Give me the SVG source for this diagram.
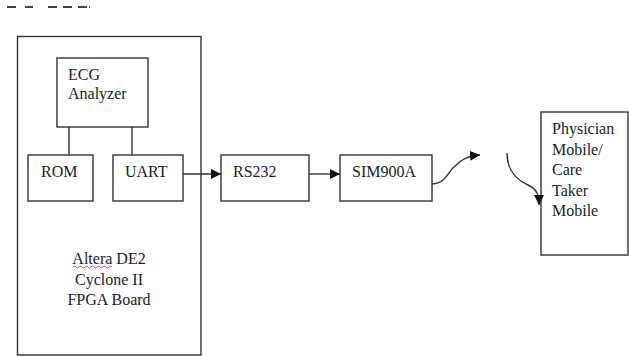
<svg xmlns="http://www.w3.org/2000/svg" width="629" height="356" viewBox="0 0 629 356">
<defs>
<marker id="ah" viewBox="0 0 10 10" refX="10" refY="5" markerWidth="10" markerHeight="10" markerUnits="userSpaceOnUse" orient="auto">
<path d="M0,0 L10,5 L0,10 Z" fill="#111"/>
</marker>
</defs>
<style>
.box{fill:#fff;stroke:#333;stroke-width:1.4}
.ln{fill:none;stroke:#333;stroke-width:1.4}
.t{font-family:'Liberation Serif','DejaVu Serif',serif;font-size:16px;fill:#1a1a2a}
.frag{stroke:#444;stroke-width:2}
</style>
<rect width="629" height="356" fill="#fff"/>
<g id="fragments">
<line class="frag" x1="7" y1="7" x2="16" y2="7"/>
<line class="frag" x1="25" y1="7" x2="33" y2="7"/>
<line class="frag" x1="48" y1="7" x2="57" y2="7"/>
<line class="frag" x1="63" y1="7" x2="72" y2="7"/>
<line class="frag" x1="78" y1="7" x2="87" y2="7"/>
<line class="frag" x1="89" y1="7" x2="90" y2="7"/>
</g>
<g id="board">
<rect class="box" x="17.5" y="36.5" width="183.5" height="318.5"/>
<text class="t" font-family="Liberation Serif, serif" text-anchor="middle" x="109" y="264">Altera DE2</text>
<text class="t" font-family="Liberation Serif, serif" text-anchor="middle" x="109" y="285">Cyclone II</text>
<text class="t" font-family="Liberation Serif, serif" text-anchor="middle" x="109" y="305">FPGA Board</text>
<path d="M73,267 q1.5,-2 3,0 t3,0 t3,0 t3,0 t3,0 t3,0 t3,0 t3,0 t3,0 t3,0 t3,0 t3,0 t3,0" fill="none" stroke="#e03030" stroke-width="0.9"/>
</g>
<g id="ecg">
<rect class="box" x="57" y="58" width="91" height="69"/>
<text class="t" font-family="Liberation Serif, serif" x="68" y="80">ECG</text>
<text class="t" font-family="Liberation Serif, serif" x="68" y="99">Analyzer</text>
</g>
<g id="rom">
<rect class="box" x="28" y="155" width="65" height="46"/>
<text class="t" font-family="Liberation Serif, serif" x="41" y="177">ROM</text>
</g>
<g id="uart">
<rect class="box" x="113" y="155" width="70" height="46"/>
<text class="t" font-family="Liberation Serif, serif" x="125" y="177">UART</text>
</g>
<g id="rs232">
<rect class="box" x="221" y="155" width="88" height="46"/>
<text class="t" font-family="Liberation Serif, serif" x="233" y="177">RS232</text>
</g>
<g id="sim900a">
<rect class="box" x="340" y="155" width="92" height="46"/>
<text class="t" font-family="Liberation Serif, serif" x="352" y="177">SIM900A</text>
</g>
<g id="physician">
<rect class="box" x="541" y="112" width="87" height="143"/>
<text class="t" font-family="Liberation Serif, serif" x="552" y="134">Physician</text>
<text class="t" font-family="Liberation Serif, serif" x="552" y="155">Mobile/</text>
<text class="t" font-family="Liberation Serif, serif" x="552" y="175">Care</text>
<text class="t" font-family="Liberation Serif, serif" x="552" y="196">Taker</text>
<text class="t" font-family="Liberation Serif, serif" x="552" y="216">Mobile</text>
</g>
<g id="connectors">
<line class="ln" x1="69" y1="127" x2="69" y2="155"/>
<line class="ln" x1="132" y1="127" x2="132" y2="155"/>
<line class="ln" x1="183" y1="174" x2="221" y2="174" marker-end="url(#ah)"/>
<line class="ln" x1="309" y1="174" x2="340" y2="174" marker-end="url(#ah)"/>
<path class="ln" d="M432,184 C447,183 447,172 455,166 C461,160 467,156 480,155" marker-end="url(#ah)"/>
<path class="ln" d="M507,153 C507,170 517,180 528,185 C537,189 539,195 539,205" marker-end="url(#ah)"/>
</g>
</svg>
